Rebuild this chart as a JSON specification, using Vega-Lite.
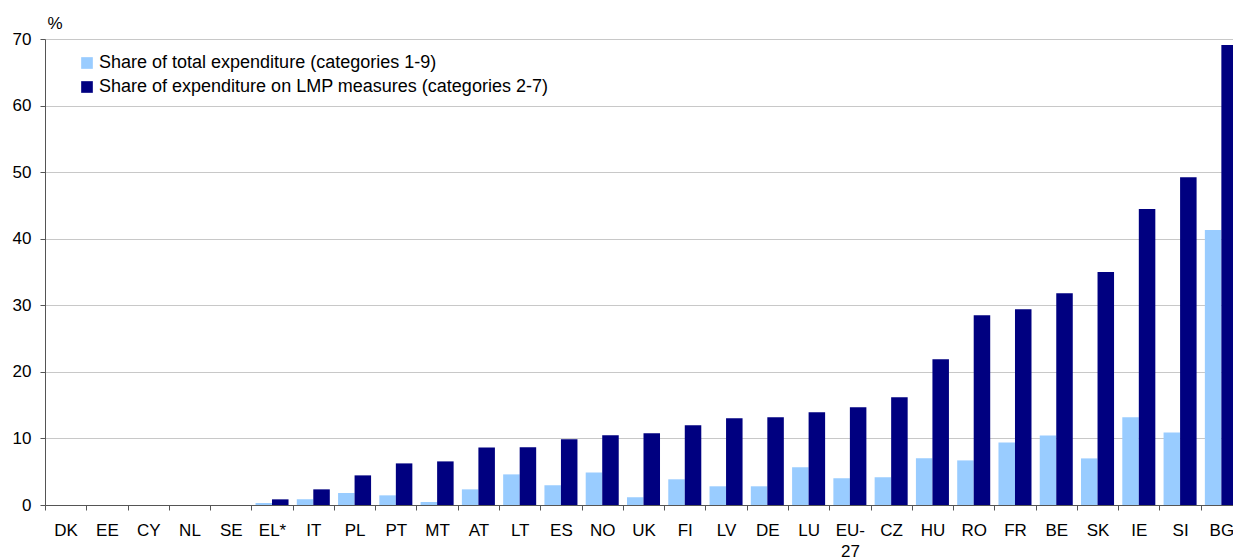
{
  "$schema": "https://vega.github.io/schema/vega-lite/v6.json",
  "width": 1188,
  "height": 466,
  "autosize": "none",
  "padding": {"left": 45, "top": 39, "right": 0, "bottom": 54},
  "background": "white",
  "config": {
    "font": "Liberation Sans",
    "view": {"stroke": null}
  },
  "data": {
    "values": [
      {"country": "DK", "series": "Share of total expenditure (categories 1-9)", "value": 0},
      {"country": "DK", "series": "Share of expenditure on LMP measures (categories 2-7)", "value": 0},
      {"country": "EE", "series": "Share of total expenditure (categories 1-9)", "value": 0},
      {"country": "EE", "series": "Share of expenditure on LMP measures (categories 2-7)", "value": 0},
      {"country": "CY", "series": "Share of total expenditure (categories 1-9)", "value": 0},
      {"country": "CY", "series": "Share of expenditure on LMP measures (categories 2-7)", "value": 0},
      {"country": "NL", "series": "Share of total expenditure (categories 1-9)", "value": 0},
      {"country": "NL", "series": "Share of expenditure on LMP measures (categories 2-7)", "value": 0},
      {"country": "SE", "series": "Share of total expenditure (categories 1-9)", "value": 0},
      {"country": "SE", "series": "Share of expenditure on LMP measures (categories 2-7)", "value": 0},
      {"country": "EL*", "series": "Share of total expenditure (categories 1-9)", "value": 0.3},
      {"country": "EL*", "series": "Share of expenditure on LMP measures (categories 2-7)", "value": 0.85},
      {"country": "IT", "series": "Share of total expenditure (categories 1-9)", "value": 0.85},
      {"country": "IT", "series": "Share of expenditure on LMP measures (categories 2-7)", "value": 2.35},
      {"country": "PL", "series": "Share of total expenditure (categories 1-9)", "value": 1.8},
      {"country": "PL", "series": "Share of expenditure on LMP measures (categories 2-7)", "value": 4.45},
      {"country": "PT", "series": "Share of total expenditure (categories 1-9)", "value": 1.45},
      {"country": "PT", "series": "Share of expenditure on LMP measures (categories 2-7)", "value": 6.25},
      {"country": "MT", "series": "Share of total expenditure (categories 1-9)", "value": 0.45},
      {"country": "MT", "series": "Share of expenditure on LMP measures (categories 2-7)", "value": 6.55},
      {"country": "AT", "series": "Share of total expenditure (categories 1-9)", "value": 2.35},
      {"country": "AT", "series": "Share of expenditure on LMP measures (categories 2-7)", "value": 8.65},
      {"country": "LT", "series": "Share of total expenditure (categories 1-9)", "value": 4.6},
      {"country": "LT", "series": "Share of expenditure on LMP measures (categories 2-7)", "value": 8.68},
      {"country": "ES", "series": "Share of total expenditure (categories 1-9)", "value": 2.96},
      {"country": "ES", "series": "Share of expenditure on LMP measures (categories 2-7)", "value": 9.88},
      {"country": "NO", "series": "Share of total expenditure (categories 1-9)", "value": 4.9},
      {"country": "NO", "series": "Share of expenditure on LMP measures (categories 2-7)", "value": 10.48},
      {"country": "UK", "series": "Share of total expenditure (categories 1-9)", "value": 1.16},
      {"country": "UK", "series": "Share of expenditure on LMP measures (categories 2-7)", "value": 10.78},
      {"country": "FI", "series": "Share of total expenditure (categories 1-9)", "value": 3.86},
      {"country": "FI", "series": "Share of expenditure on LMP measures (categories 2-7)", "value": 11.98},
      {"country": "LV", "series": "Share of total expenditure (categories 1-9)", "value": 2.81},
      {"country": "LV", "series": "Share of expenditure on LMP measures (categories 2-7)", "value": 13.04},
      {"country": "DE", "series": "Share of total expenditure (categories 1-9)", "value": 2.81},
      {"country": "DE", "series": "Share of expenditure on LMP measures (categories 2-7)", "value": 13.19},
      {"country": "LU", "series": "Share of total expenditure (categories 1-9)", "value": 5.67},
      {"country": "LU", "series": "Share of expenditure on LMP measures (categories 2-7)", "value": 13.94},
      {"country": "EU-27", "series": "Share of total expenditure (categories 1-9)", "value": 4.02},
      {"country": "EU-27", "series": "Share of expenditure on LMP measures (categories 2-7)", "value": 14.69},
      {"country": "CZ", "series": "Share of total expenditure (categories 1-9)", "value": 4.17},
      {"country": "CZ", "series": "Share of expenditure on LMP measures (categories 2-7)", "value": 16.2},
      {"country": "HU", "series": "Share of total expenditure (categories 1-9)", "value": 7.02},
      {"country": "HU", "series": "Share of expenditure on LMP measures (categories 2-7)", "value": 21.9},
      {"country": "RO", "series": "Share of total expenditure (categories 1-9)", "value": 6.7},
      {"country": "RO", "series": "Share of expenditure on LMP measures (categories 2-7)", "value": 28.5},
      {"country": "FR", "series": "Share of total expenditure (categories 1-9)", "value": 9.4},
      {"country": "FR", "series": "Share of expenditure on LMP measures (categories 2-7)", "value": 29.4},
      {"country": "BE", "series": "Share of total expenditure (categories 1-9)", "value": 10.45},
      {"country": "BE", "series": "Share of expenditure on LMP measures (categories 2-7)", "value": 31.8},
      {"country": "SK", "series": "Share of total expenditure (categories 1-9)", "value": 7.0},
      {"country": "SK", "series": "Share of expenditure on LMP measures (categories 2-7)", "value": 35.0},
      {"country": "IE", "series": "Share of total expenditure (categories 1-9)", "value": 13.2},
      {"country": "IE", "series": "Share of expenditure on LMP measures (categories 2-7)", "value": 44.45},
      {"country": "SI", "series": "Share of total expenditure (categories 1-9)", "value": 10.9},
      {"country": "SI", "series": "Share of expenditure on LMP measures (categories 2-7)", "value": 49.25},
      {"country": "BG", "series": "Share of total expenditure (categories 1-9)", "value": 41.3},
      {"country": "BG", "series": "Share of expenditure on LMP measures (categories 2-7)", "value": 69.1}
    ]
  },
  "mark": {"type": "bar"},
  "encoding": {
    "x": {
      "field": "country",
      "type": "nominal",
      "sort": ["DK","EE","CY","NL","SE","EL*","IT","PL","PT","MT","AT","LT","ES","NO","UK","FI","LV","DE","LU","EU-27","CZ","HU","RO","FR","BE","SK","IE","SI","BG"],
      "scale": {"paddingInner": 0, "paddingOuter": 0, "rangeMax": 1197},
      "axis": {
        "title": null,
        "labelAngle": 0,
        "tickBand": "extent",
        "tickSize": 5,
        "labelPadding": 12,
        "labelFontSize": 17,
        "labelColor": "#000000",
        "labelOverlap": false,
        "labelFlush": false,
        "labelLineHeight": 21,
        "labelExpr": "datum.label == 'EU-27' ? ['EU-', '27'] : datum.label",
        "domainColor": "#555555",
        "tickColor": "#555555",
        "grid": false,
        "zindex": 1
      }
    },
    "xOffset": {
      "field": "series",
      "type": "nominal",
      "sort": ["Share of total expenditure (categories 1-9)", "Share of expenditure on LMP measures (categories 2-7)"],
      "scale": {"paddingInner": 0, "paddingOuter": 0.25}
    },
    "y": {
      "field": "value",
      "type": "quantitative",
      "scale": {"domain": [0, 70], "nice": false},
      "axis": {
        "values": [0, 10, 20, 30, 40, 50, 60, 70],
        "grid": true,
        "gridColor": "#c8c8c8",
        "domainColor": "#555555",
        "tickColor": "#555555",
        "tickSize": 5,
        "labelPadding": 9,
        "labelFontSize": 17,
        "labelColor": "#000000",
        "title": "%",
        "titleAngle": 0,
        "titleAlign": "left",
        "titleBaseline": "alphabetic",
        "titleX": 2,
        "titleY": -11,
        "titleFontSize": 17,
        "titleFontWeight": "normal",
        "titleColor": "#000000"
      }
    },
    "color": {
      "field": "series",
      "type": "nominal",
      "sort": ["Share of total expenditure (categories 1-9)", "Share of expenditure on LMP measures (categories 2-7)"],
      "scale": {
        "domain": ["Share of total expenditure (categories 1-9)", "Share of expenditure on LMP measures (categories 2-7)"],
        "range": ["#99CCFF", "#000080"]
      },
      "legend": {
        "title": null,
        "orient": "none",
        "legendX": 33,
        "legendY": 15,
        "padding": 0,
        "symbolType": "square",
        "symbolSize": 136,
        "symbolStrokeWidth": 0,
        "symbolOpacity": 1,
        "labelFontSize": 18,
        "labelColor": "#000000",
        "labelOffset": 3,
        "rowPadding": 6,
        "labelLimit": 0
      }
    }
  }
}
